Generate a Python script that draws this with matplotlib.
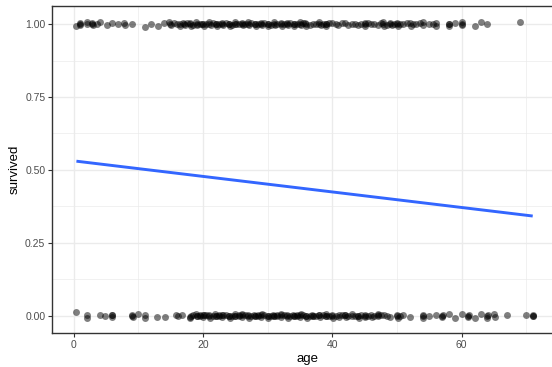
import matplotlib
matplotlib.use("Agg")
import matplotlib.pyplot as plt
from matplotlib.ticker import FixedLocator

# jittered points (age, survived)
survived_pts = [
    (0.4, 0.995), (0.9, 1.004), (1.0, 0.998), (2.0, 1.008), (2.1, 0.999), (2.9, 1.003),
    (3.0, 0.996), (3.6, 1.001), (4.1, 1.006), (5.1, 0.997), (5.9, 1.003), (6.8, 1.000),
    (7.8, 1.005), (8.0, 0.997), (9.0, 1.002), (11.0, 0.990), (11.9, 1.001), (13.0, 0.992),
    (14.0, 1.004), (14.8, 1.006), (15.0, 0.998), (16.0, 1.002), (16.4, 0.995), (16.9, 1.005),
    (17.2, 0.997), (18.0, 1.003), (18.2, 0.994), (18.9, 1.007), (19.1, 0.998), (19.9, 1.002),
    (20.2, 0.995), (21.0, 1.006), (21.2, 0.997), (22.0, 1.001), (22.1, 0.993), (22.9, 1.005),
    (23.1, 0.998), (24.0, 1.002), (24.1, 0.994), (24.9, 1.006), (25.1, 0.999), (26.0, 1.003),
    (26.2, 0.996), (27.0, 1.007), (27.1, 0.998), (28.0, 1.001), (28.2, 0.994), (29.0, 1.005),
    (29.1, 0.997), (30.0, 1.002), (30.1, 0.995), (31.0, 1.006), (31.1, 0.998), (32.0, 1.003),
    (32.2, 0.994), (33.0, 1.005), (33.2, 0.997), (34.0, 1.001), (34.1, 0.993), (35.0, 1.006),
    (35.2, 0.998), (35.8, 1.003), (36.0, 0.995), (37.0, 1.002), (38.0, 1.006), (38.2, 0.996),
    (39.0, 1.001), (39.1, 0.994), (40.0, 1.004), (40.9, 0.998), (42.0, 1.003), (43.0, 1.001),
    (44.0, 0.996), (45.0, 1.005), (45.1, 0.994), (46.0, 1.002), (47.0, 0.998), (47.8, 1.006),
    (48.0, 0.995), (49.0, 1.003), (49.2, 0.996), (50.0, 1.004), (50.1, 0.994), (51.0, 0.999),
    (52.0, 1.005), (52.1, 0.995), (53.0, 1.002), (54.0, 0.996), (54.1, 1.006), (55.0, 1.001),
    (56.0, 0.995), (56.1, 1.004), (58.0, 0.994), (58.1, 1.001), (59.0, 1.005), (60.0, 1.006),
    (60.1, 0.996), (62.0, 0.995), (63.0, 1.008), (64.0, 1.000), (69.0, 1.006),
    # crowded middle ages
    (0.9, 1.000), (2.9, 0.999), (14.9, 1.001), (15.5, 1.003), (16.5, 0.999), (17.5, 1.004),
    (18.5, 0.998), (19.5, 1.002), (20.5, 1.000), (21.5, 1.003), (22.5, 0.999), (23.5, 1.004),
    (24.5, 0.998), (25.5, 1.002), (26.5, 1.000), (27.5, 1.003), (28.5, 0.999), (29.5, 1.004),
    (30.5, 0.998), (31.5, 1.002), (32.5, 1.000), (33.5, 1.003), (34.5, 0.999), (35.5, 1.004),
    (36.5, 0.998), (37.5, 1.002), (38.5, 1.000), (39.5, 1.003), (40.5, 0.999), (41.5, 1.004),
    (42.5, 0.998), (43.5, 1.002), (44.5, 1.000), (45.5, 1.003), (46.5, 0.999), (47.5, 1.004),
    (48.5, 0.998), (49.5, 1.002), (50.5, 1.000), (51.5, 1.003), (52.5, 0.999), (53.5, 1.004),
    (55.5, 1.000), (17.0, 1.000), (18.0, 0.999), (19.0, 1.001), (20.0, 1.000), (21.0, 0.999),
    (22.0, 1.002), (23.0, 1.000), (24.0, 0.999), (25.0, 1.001), (26.0, 1.000), (27.0, 0.999),
    (28.0, 1.002), (29.0, 1.000), (30.0, 0.999), (31.0, 1.001), (32.0, 1.000), (33.0, 0.999),
    (34.0, 1.002), (35.0, 1.000), (36.0, 0.999), (38.0, 1.001), (39.0, 1.000), (45.0, 0.999),
    (47.8, 1.000), (49.0, 1.001), (50.0, 0.999), (58.0, 1.000), (60.0, 1.001),
]

died_pts = [
    (0.3, 0.012), (2.0, -0.008), (2.1, 0.001), (4.0, 0.002), (4.8, 0.000), (5.9, -0.003),
    (6.0, 0.004), (9.0, 0.003), (9.2, -0.004), (9.9, 0.006), (11.0, -0.007), (11.1, 0.002),
    (12.9, -0.004), (14.1, -0.005), (15.9, 0.004), (16.1, -0.001), (16.8, 0.002), (18.0, -0.008),
    (18.1, 0.000), (18.9, 0.005), (19.0, -0.002), (19.5, 0.003), (20.0, -0.004), (20.2, 0.004),
    (21.0, 0.001), (21.1, -0.006), (21.9, 0.005), (22.0, -0.002), (22.5, 0.002), (23.0, -0.005),
    (23.1, 0.004), (24.0, 0.000), (24.1, -0.007), (24.9, 0.005), (25.0, -0.002), (25.5, 0.003),
    (26.0, -0.004), (26.1, 0.005), (27.0, 0.001), (27.1, -0.006), (27.9, 0.004), (28.0, -0.002),
    (28.5, 0.002), (29.0, -0.005), (29.1, 0.005), (30.0, 0.000), (30.1, -0.007), (30.9, 0.004),
    (31.0, -0.002), (31.5, 0.003), (32.0, -0.004), (32.1, 0.005), (33.0, 0.001), (33.1, -0.006),
    (33.9, 0.004), (34.0, -0.002), (34.5, 0.002), (35.0, -0.005), (35.1, 0.005), (36.0, 0.000),
    (36.1, -0.007), (36.9, 0.004), (37.0, -0.002), (38.0, 0.003), (38.1, -0.005), (39.0, 0.005),
    (39.1, -0.002), (40.0, 0.001), (40.1, -0.006), (41.0, 0.004), (41.1, -0.003), (42.0, 0.002),
    (42.1, -0.005), (43.0, 0.005), (43.1, -0.001), (44.0, 0.000), (44.2, -0.006), (45.0, 0.004),
    (45.1, -0.003), (46.0, 0.002), (46.1, -0.005), (47.0, 0.005), (47.1, -0.002), (48.0, 0.001),
    (49.0, -0.004), (50.0, 0.003), (50.1, -0.006), (51.0, 0.004), (52.0, -0.005), (54.0, 0.003),
    (54.1, -0.006), (55.0, -0.002), (56.0, 0.004), (57.0, -0.004), (57.1, 0.002), (58.0, 0.005),
    (59.0, -0.006), (60.0, 0.006), (61.0, -0.004), (61.1, 0.001), (62.0, -0.008), (63.0, 0.007),
    (64.0, -0.006), (64.1, 0.002), (65.0, 0.005), (65.1, -0.005), (67.0, 0.003), (70.0, 0.004),
    (71.0, 0.001), (71.1, -0.002),
    # crowded middle ages
    (5.9, 0.001), (9.0, -0.001), (18.0, -0.003), (18.5, 0.001), (19.5, -0.001), (20.5, 0.002),
    (21.5, -0.002), (22.5, 0.000), (23.5, 0.001), (24.5, -0.002), (25.5, 0.000), (26.5, 0.002),
    (27.5, -0.001), (28.5, -0.002), (29.5, 0.001), (30.5, -0.002), (31.5, 0.000), (32.5, 0.002),
    (33.5, -0.001), (34.5, -0.002), (35.5, 0.001), (36.5, -0.002), (37.5, 0.000), (38.5, 0.002),
    (39.5, -0.001), (40.5, -0.002), (41.5, 0.001), (42.5, -0.002), (43.5, 0.000), (44.5, 0.002),
    (45.5, -0.001), (46.5, -0.002), (47.5, 0.001), (48.5, -0.001), (50.5, 0.000), (19.0, 0.000),
    (20.0, 0.001), (21.0, -0.001), (22.0, 0.000), (23.0, 0.001), (24.0, -0.001), (25.0, 0.000),
    (26.0, 0.001), (27.0, -0.001), (28.0, 0.000), (29.0, 0.001), (30.0, -0.001), (31.0, 0.000),
    (32.0, 0.001), (33.0, -0.001), (34.0, 0.000), (35.0, 0.001), (36.0, -0.001), (37.0, 0.000),
    (38.0, 0.001), (39.0, -0.001), (40.0, 0.000), (42.0, 0.001), (44.0, -0.001), (45.0, 0.000),
    (47.0, 0.001), (50.0, 0.000), (54.0, -0.001), (57.0, 0.000), (61.0, 0.000), (64.0, 0.000),
    (71.0, 0.000),
]

# linear fit line, end points
trend_age = [0.42, 71.0]
trend_fit = [0.530, 0.342]

x_major = [0, 20, 40, 60]
x_minor = [10, 30, 50, 70]
y_major = [0.0, 0.25, 0.50, 0.75, 1.00]
y_minor = [0.125, 0.375, 0.625, 0.875]

plt.rcParams['font.family'] = ['Liberation Sans', 'DejaVu Sans']

W, H = 552, 367
fig = plt.figure(figsize=(W / 100, H / 100), dpi=100)
# panel runs past the right edge (the reference is cropped there)
left, right, top, bottom = 52.3, 562.3, 6, 333
ax = fig.add_axes([left / W, 1 - bottom / H, (right - left) / W, (bottom - top) / H])

ax.set_xlim(-3.31, (right - 73.7) / 6.465)
ax.set_ylim(-0.059, 1.062)

for pts in (survived_pts, died_pts):
    xs = [p[0] for p in pts]
    ys = [p[1] for p in pts]
    ax.scatter(xs, ys, s=25, color='black', alpha=0.5, linewidths=0, zorder=3)

ax.plot(trend_age, trend_fit, color='#3366FF', lw=2.1, zorder=4, solid_capstyle='butt')

ax.xaxis.set_major_locator(FixedLocator(x_major))
ax.xaxis.set_minor_locator(FixedLocator(x_minor))
ax.yaxis.set_major_locator(FixedLocator(y_major))
ax.yaxis.set_minor_locator(FixedLocator(y_minor))
ax.set_yticklabels(['%.2f' % v for v in y_major])
ax.set_xticklabels([str(v) for v in x_major])

ax.grid(which='major', color='#EBEBEB', lw=1.0, zorder=0)
ax.grid(which='minor', color='#EBEBEB', lw=0.5, zorder=0)
ax.set_axisbelow(True)

ax.tick_params(which='major', length=3, width=0.8, color='#333333',
               labelsize=7.5, labelcolor='#4D4D4D', pad=2)
ax.tick_params(which='minor', length=0)
for sp in ax.spines.values():
    sp.set_color('#333333')
    sp.set_linewidth(1.0)

ax.set_xlabel('age', fontsize=9.5, labelpad=2)
ax.set_ylabel('survived', fontsize=9.5, labelpad=3)

fig.savefig('out.png', dpi=100)
